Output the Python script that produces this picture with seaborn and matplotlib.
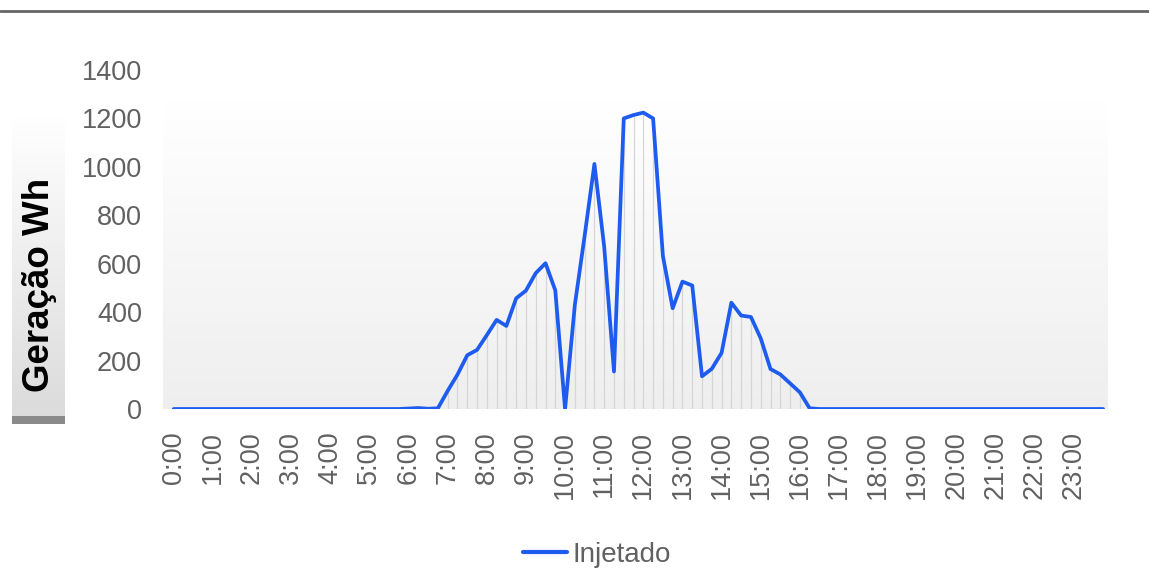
import numpy as np
import pandas as pd
import matplotlib.pyplot as plt
import seaborn as sns

# injected energy every 15 minutes (Wh)
injetado = [
    0, 0, 0, 0, 0, 0, 0, 0, 0, 0, 0, 0,
    0, 0, 0, 0, 0, 0, 0, 0, 0, 0, 0, 0,
    2, 4, 1, 3, 75, 142, 222, 244, 305, 368, 343, 457,
    489, 561, 602, 490, 0, 430, 715, 1012, 670, 155, 1200, 1214,
    1224, 1200, 632, 416, 526, 510, 135, 166, 232, 439, 386, 380,
    292, 165, 143, 106, 69, 3, 0, 0, 0, 0, 0, 0,
    0, 0, 0, 0, 0, 0, 0, 0, 0, 0, 0, 0,
    0, 0, 0, 0, 0, 0, 0, 0, 0, 0, 0, 0,
]
slots = [f"{h}:{m:02d}" for h in range(24) for m in (0, 15, 30, 45)]
hour_labels = [f"{h}:00" for h in range(24)]
y_ticks = [0, 200, 400, 600, 800, 1000, 1200, 1400]

df = pd.DataFrame({"slot": slots, "pos": range(len(slots)), "Injetado": injetado})

sns.set_style("white")
plt.rcParams['font.family'] = ['Liberation Sans', 'DejaVu Sans']

tick_color = '#616161'
blue = '#1e5cf0'

fig = plt.figure(figsize=(11.49, 5.70), dpi=100)
ax = fig.add_axes([163 / 1149, 1 - 409 / 570, (1108 - 163) / 1149, (409 - 70) / 570])

xmin, xmax = -1.1, 95.5
# soft vertical gradient behind the plot
grad = np.linspace(1.0, 0.935, 256).reshape(-1, 1)
rgb = np.dstack([grad, grad, grad])
ax.imshow(rgb, extent=[xmin, xmax, 0, 1270], aspect='auto', zorder=0, interpolation='bilinear')

# thin drop lines under the curve
ax.vlines(df["pos"], 0, df["Injetado"], color='#d6d6d6', lw=0.9, zorder=1)

sns.lineplot(data=df, x="pos", y="Injetado", color=blue, lw=2.7, ax=ax, zorder=3, legend=False)

ax.set_xlim(xmin, xmax)
ax.set_ylim(0, 1400)
ax.set_yticks(y_ticks)
ax.set_yticklabels([str(v) for v in y_ticks])
ax.set_xticks(range(0, 96, 4))
ax.set_xticklabels(hour_labels, rotation=90)
ax.tick_params(axis='both', length=0, colors=tick_color, labelsize=19.5)
ax.tick_params(axis='x', pad=16)
ax.tick_params(axis='y', pad=15)
ax.set_xlabel("")
ax.set_ylabel("")
for s in ax.spines.values():
    s.set_visible(False)

# y label inside a grey gradient box
lab = fig.add_axes([12 / 1149, 1 - 416 / 570, 53 / 1149, (416 - 115) / 570])
g2 = np.linspace(1.0, 0.86, 256).reshape(-1, 1)
lab.imshow(np.dstack([g2, g2, g2]), extent=[0, 1, 0, 1], aspect='auto', interpolation='bilinear')
lab.set_xlim(0, 1)
lab.set_ylim(0, 1)
lab.axis('off')
lab.text(0.52, 0.435, "Geração Wh", rotation=90, ha='center', va='center', fontsize=26.5,
         fontweight='bold', color='black')
bar = fig.add_axes([12 / 1149, 1 - 424 / 570, 53 / 1149, 8 / 570])
bar.set_facecolor('#8a8a8a')
bar.set_xticks([])
bar.set_yticks([])
for s in bar.spines.values():
    s.set_visible(False)

# top rule
fig.add_artist(plt.Line2D([0, 1], [1 - 11 / 570, 1 - 11 / 570], color='#666666', lw=2))

handles = [plt.Line2D([], [], color=blue, lw=3)]
fig.legend(handles, ["Injetado"], loc='center', bbox_to_anchor=(597 / 1149, 1 - 555 / 570), frameon=False,
           fontsize=20, handlelength=1.6, handletextpad=0.2, labelcolor=tick_color)

fig.savefig("out.png", dpi=100)
